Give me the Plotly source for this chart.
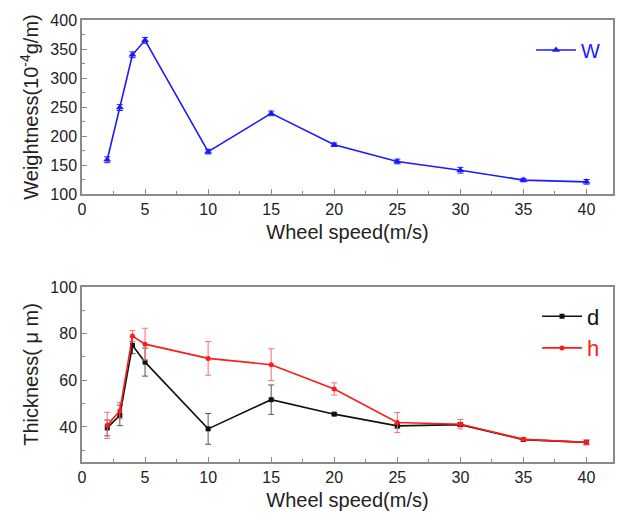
import plotly.graph_objects as go
from plotly.subplots import make_subplots

speed = [2, 3, 4, 5, 10, 15, 20, 25, 30, 35, 40]

w_vals = [159, 249, 340, 365, 173, 239, 185, 156, 141, 124, 121]
w_err = [5, 5, 5, 5, 4, 4, 3, 4, 5, 3, 4]

d_vals = [39.6, 45.0, 75.0, 67.8, 39.2, 51.7, 45.5, 40.5, 41.0, 34.6, 33.4]
d_err = [3.4, 4.4, 3.6, 6.0, 6.6, 6.3, 0.5, 1.0, 0.8, 0.6, 1.0]

h_vals = [40.7, 47.0, 79.0, 75.5, 69.4, 66.7, 56.3, 41.9, 41.2, 34.7, 33.4]
h_err = [5.6, 3.5, 2.4, 6.8, 7.2, 6.8, 2.6, 4.3, 2.0, 0.6, 1.0]

x_ticks = [0, 5, 10, 15, 20, 25, 30, 35, 40]

FONT = "Liberation Sans, Arial, sans-serif"
TXT = "#222222"
AX = "#8a8a8a"

fig = make_subplots(rows=2, cols=1)

fig.add_trace(go.Scatter(
    x=speed, y=w_vals, mode="lines+markers",
    name="<span style='color:#1a1aff'>W</span>",
    line=dict(color="#1a1aff", width=1.6),
    marker=dict(symbol="triangle-up", size=7, color="#1a1aff"),
    error_y=dict(type="data", array=w_err, color="#1a1aff", thickness=1, width=3),
    legend="legend", showlegend=True,
), row=1, col=1)

fig.add_trace(go.Scatter(
    x=speed, y=d_vals, mode="lines+markers",
    name="<span style='color:#111111'>d</span>",
    line=dict(color="#111111", width=1.6),
    marker=dict(symbol="square", size=5, color="#111111"),
    error_y=dict(type="data", array=d_err, color="#555555", thickness=1, width=3),
    legend="legend2", showlegend=True,
), row=2, col=1)

fig.add_trace(go.Scatter(
    x=speed, y=h_vals, mode="lines+markers",
    name="<span style='color:#ff1a1a'>h</span>",
    line=dict(color="#ff1a1a", width=1.6),
    marker=dict(symbol="circle", size=5, color="#ff1a1a"),
    error_y=dict(type="data", array=h_err, color="#ff6b6b", thickness=1, width=3),
    legend="legend2", showlegend=True,
), row=2, col=1)

axis_common = dict(
    showline=True, linecolor=AX, linewidth=1.5, mirror=True,
    ticks="inside", ticklen=5, tickwidth=1, tickcolor=AX,
    showgrid=False, zeroline=False,
    tickfont=dict(family=FONT, size=16, color=TXT),
    title_font=dict(family=FONT, size=20, color=TXT),
)

for r, dom in [(1, [0.6063, 1.0]), (2, [0.0, 0.396])]:
    fig.update_xaxes(
        range=[0, 42.1], tickvals=x_ticks,
        minor=dict(ticks="inside", ticklen=3, dtick=2.5, tick0=0, tickcolor=AX),
        title_text="Wheel speed(m/s)", title_standoff=8,
        row=r, col=1, **axis_common)
    fig.update_yaxes(domain=dom, row=r, col=1)

fig.update_yaxes(
    range=[100, 400], tickvals=[100, 150, 200, 250, 300, 350, 400],
    minor=dict(ticks="inside", ticklen=3, dtick=25, tick0=100, tickcolor=AX),
    title_text="Weightness(10<sup>-4</sup>g/m)", title_standoff=6,
    row=1, col=1, **axis_common)

fig.update_yaxes(
    range=[25, 100], tickvals=[40, 60, 80, 100],
    minor=dict(ticks="inside", ticklen=3, dtick=10, tick0=30, tickcolor=AX),
    title_text="Thickness( μ m)", title_standoff=6,
    row=2, col=1, **axis_common)

fig.update_layout(
    width=617, height=520,
    margin=dict(l=82, r=2, t=20, b=58),
    paper_bgcolor="white", plot_bgcolor="white",
    font=dict(family=FONT, color=TXT),
    showlegend=True,
    legend=dict(visible=True, x=0.985, y=0.932, xanchor="right", yanchor="middle",
                bgcolor="rgba(0,0,0,0)", font=dict(family=FONT, size=20),
                itemwidth=40),
    legend2=dict(visible=True, x=0.985, y=0.293, xanchor="right", yanchor="middle",
                 bgcolor="rgba(0,0,0,0)", font=dict(family=FONT, size=22),
                 itemwidth=40, tracegroupgap=0),
)

fig.write_html("out.html")
